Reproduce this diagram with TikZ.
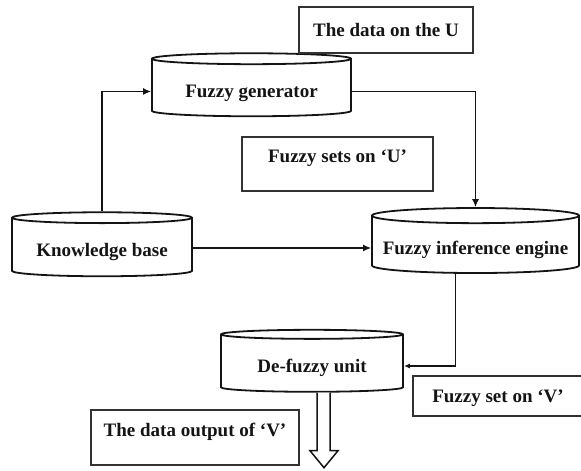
\documentclass[tikz,border=0pt]{standalone}
\usepackage{fontspec}
\setmainfont{Liberation Serif}
\usetikzlibrary{arrows.meta,positioning,shapes.geometric}
\definecolor{FzInk}{RGB}{20,20,20}
\definecolor{FzEdge}{RGB}{50,50,50}
\tikzset{
  fz/store/.style={
    cylinder,
    shape border rotate=90,
    aspect=0.08,
    draw=FzInk,
    line width=1.8pt,
    fill=white,
    align=center,
    text=FzInk,
    inner sep=2pt,
    text height=22pt,
    text depth=4pt,
    font=\fontsize{19}{22}\selectfont\bfseries
  },
  fz/note/.style={
    draw=FzEdge,
    line width=1.5pt,
    fill=white,
    align=center,
    text=FzInk,
    inner sep=2pt,
    font=\fontsize{19}{22}\selectfont\bfseries
  },
  fz/arrow/.style={-{Latex[length=8pt,width=7pt]}, line width=1.3pt, draw=FzInk},
  fz/smallarrow/.style={-{Latex[length=6pt,width=5pt]}, line width=1.3pt, draw=FzInk},
  fz/hollow/.style={draw=FzInk, line width=1.5pt, fill=white, line join=miter}
}

\begin{document}
\begin{tikzpicture}[x=1pt,y=1pt]
  \useasboundingbox (0,0) rectangle (581,471);
  % the four stores
  \node[fz/store,minimum width=199pt,minimum height=63pt] (gen) at (251.5,382.5) {Fuzzy generator};
  \node[fz/store,minimum width=180pt,minimum height=64pt] (kb) at (102,223) {Knowledge base};
  \node[fz/store,minimum width=207pt,minimum height=65pt] (inf) at (475.5,225.5) {Fuzzy inference engine};
  \node[fz/store,minimum width=182pt,minimum height=62pt] (defuz) at (312,107) {De-fuzzy unit};
  % labels on the data flow
  \node[fz/note,minimum width=174pt,minimum height=46pt] (dataU) at (386,441) {The data on the U};
  \node[fz/note,minimum width=191pt,minimum height=54pt,text depth=16pt] (setsU) at (337.5,307) {Fuzzy sets on ‘U’};
  \node[fz/note,minimum width=170pt,minimum height=40pt,text height=17pt] (setV) at (498,75) {Fuzzy set on ‘V’};
  \node[fz/note,minimum width=208pt,minimum height=55pt,text depth=15pt] (dataV) at (195,33.5) {The data output of ‘V’};
  % connectors
  \draw[fz/arrow] (kb.north) |- ([yshift=-3pt]gen.west);
  \draw[fz/arrow] ([yshift=-3pt]gen.east) -| (inf.north);
  \draw[fz/arrow] (kb.east) -- (kb.east -| inf.west);
  \draw[fz/smallarrow] ([xshift=-20pt]inf.south) |- ([yshift=-2pt]defuz.east);
  % hollow output arrow
  \draw[fz/hollow] ([xshift=5pt]defuz.south) -- ++(0,-58) -- ++(-7,0) -- ++(14,-17)
    -- ++(14,17) -- ++(-8,0) -- ++(0,58);
\end{tikzpicture}
\end{document}
